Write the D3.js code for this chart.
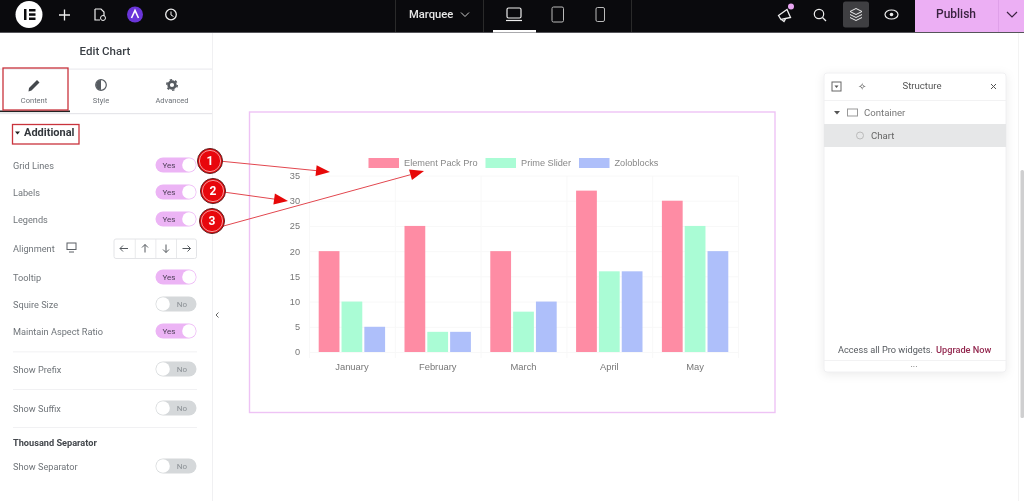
<!DOCTYPE html>
<html>
<head>
<meta charset="utf-8">
<script src="https://cdn.jsdelivr.net/npm/d3@7"></script>
<style>
html, body { margin: 0; padding: 0; background: #fff; overflow: hidden; }
svg { display: block; font-family: Roboto, sans-serif; filter: blur(0.35px); }
</style>
</head>
<body>
<div class="container"></div>
<script>
// chart data
const months = ['January', 'February', 'March', 'April', 'May']
const seriesNames = ['Element Pack Pro', 'Prime Slider', 'Zoloblocks']
const elementPack = [20, 25, 20, 32, 30]
const primeSlider = [10, 4, 8, 16, 25]
const zoloblocks = [5, 4, 10, 16, 20]
const yTicks = [0, 5, 10, 15, 20, 25, 30, 35]
const seriesColors = ['#fe8ca4', '#aafcd5', '#aebffa']

// editor panel rows
const rowLabels = ['Grid Lines', 'Labels', 'Legends', 'Alignment', 'Tooltip', 'Squire Size', 'Maintain Aspect Ratio', 'Show Prefix', 'Show Suffix', 'Show Separator']
const rowY = [165, 192, 219, 248, 277, 304, 331, 369, 408, 466]
const rowToggle = ['Yes', 'Yes', 'Yes', null, 'Yes', 'No', 'Yes', 'No', 'No', 'No']
const tabNames = ['Content', 'Style', 'Advanced']

const svg = d3.select('.container').append('svg')
    .attr('width', 1024)
    .attr('height', 501)

const text = (g, x, y, str, size, fill, anchor, weight) => g.append('text')
    .attr('x', x).attr('y', y).attr('dy', '.35em')
    .attr('font-size', size).attr('fill', fill)
    .attr('text-anchor', anchor || 'start')
    .attr('font-weight', weight || 400)
    .text(str)

const rect = (g, x, y, w, h, fill, stroke) => g.append('rect')
    .attr('x', x).attr('y', y).attr('width', w).attr('height', h)
    .attr('fill', fill || 'none').attr('stroke', stroke || 'none')

// top bar
const bar = svg.append('g')
rect(bar, 0, 0, 1024, 32, '#0a0a0d')
rect(bar, 0, 32, 1024, 1, '#55555a')
bar.append('circle').attr('cx', 29).attr('cy', 14.5).attr('r', 13.5).attr('fill', '#fff')
rect(bar, 24, 9, 2.5, 11, '#0a0a0d')
rect(bar, 29, 9, 6.5, 2.5, '#0a0a0d')
rect(bar, 29, 13.3, 6.5, 2.5, '#0a0a0d')
rect(bar, 29, 17.5, 6.5, 2.5, '#0a0a0d')
bar.append('path').attr('d', 'M59 15H70M64.5 9.5V20.5').attr('stroke', '#eee').attr('stroke-width', 1.3)
bar.append('path').attr('d', 'M95 9H101L104 12V16M95 9V20H100').attr('stroke', '#eee').attr('fill', 'none').attr('stroke-width', 1.2)
bar.append('circle').attr('cx', 103).attr('cy', 18).attr('r', 2.5).attr('stroke', '#eee').attr('fill', 'none')
bar.append('circle').attr('cx', 135).attr('cy', 14.5).attr('r', 8).attr('fill', '#6a35d9')
bar.append('path').attr('d', 'M131.5 18L135 10.5L138.5 18').attr('stroke', '#fff').attr('fill', 'none').attr('stroke-width', 1.6)
bar.append('circle').attr('cx', 171).attr('cy', 14.5).attr('r', 5.3).attr('stroke', '#eee').attr('fill', 'none').attr('stroke-width', 1.3)
bar.append('path').attr('d', 'M171 11.5V15L173.5 16.5').attr('stroke', '#eee').attr('fill', 'none')
rect(bar, 395, 0, 0.8, 32, '#333')
rect(bar, 483, 0, 0.8, 32, '#333')
rect(bar, 631, 0, 0.8, 32, '#333')
text(bar, 409, 14.5, 'Marquee', 11.2, '#e8e8e8', 'start', 500)
bar.append('path').attr('d', 'M461 12.5L465 16.5L469 12.5').attr('stroke', '#ccc').attr('fill', 'none')
// device switch
bar.append('rect').attr('x', 507).attr('y', 8).attr('width', 14).attr('height', 10).attr('rx', 1.5).attr('stroke', '#eee').attr('fill', 'none').attr('stroke-width', 1.2)
bar.append('path').attr('d', 'M506 20.5H522').attr('stroke', '#eee').attr('stroke-width', 1.2)
rect(bar, 493, 30, 43, 2.5, '#fff')
bar.append('rect').attr('x', 552).attr('y', 7).attr('width', 11.5).attr('height', 15).attr('rx', 1.5).attr('stroke', '#bbb').attr('fill', 'none')
bar.append('rect').attr('x', 596).attr('y', 7.5).attr('width', 8.5).attr('height', 14).attr('rx', 1.5).attr('stroke', '#bbb').attr('fill', 'none')
// right side icons
bar.append('path').attr('d', 'M778.5 15.5L787 9.5L790.5 17.5L781 19.5ZM781.5 19.5L784 21.5L785.5 19').attr('stroke', '#eee').attr('fill', 'none').attr('stroke-width', 1.3)
bar.append('circle').attr('cx', 791).attr('cy', 6.5).attr('r', 3).attr('fill', '#e9a6f2')
bar.append('circle').attr('cx', 819).attr('cy', 14).attr('r', 4.7).attr('stroke', '#eee').attr('fill', 'none').attr('stroke-width', 1.2)
bar.append('path').attr('d', 'M822.5 17.5L826 21').attr('stroke', '#eee').attr('stroke-width', 1.3)
bar.append('rect').attr('x', 843).attr('y', 1.5).attr('width', 26).attr('height', 26).attr('rx', 2.5).attr('fill', '#3f3f42')
bar.append('path').attr('d', 'M850 11.5L856 8.5L862 11.5L856 14.5ZM850 14.5L856 17.5L862 14.5M850 17.5L856 20.5L862 17.5').attr('stroke', '#eee').attr('fill', 'none')
bar.append('ellipse').attr('cx', 891.5).attr('cy', 14.5).attr('rx', 6.5).attr('ry', 4.5).attr('stroke', '#eee').attr('fill', 'none').attr('stroke-width', 1.2)
bar.append('circle').attr('cx', 891.5).attr('cy', 14.5).attr('r', 1.8).attr('fill', '#eee')
rect(bar, 915, 0, 109, 32, '#ecaff4')
rect(bar, 998, 0, 0.8, 32, '#dc9de6')
text(bar, 956, 14, 'Publish', 12, '#3a2340', 'middle', 500)
bar.append('path').attr('d', 'M1007 12L1012 17L1017 12').attr('stroke', '#3a2340').attr('fill', 'none').attr('stroke-width', 1.2)

// editor panel
const panel = svg.append('g')
rect(panel, 212, 33, 1, 468, '#f0f0f2')
text(panel, 105, 50.5, 'Edit Chart', 11.5, '#3a3f45', 'middle', 500)
rect(panel, 0, 68.5, 212, 1.2, '#ececef')
rect(panel, 0, 113, 212, 1.2, '#e6e6ea')
rect(panel, 0, 110.5, 70, 1.6, '#222')
tabNames.forEach((t, i) => text(panel, [34, 101, 172][i], 100.5, t, 7.5, '#6d7278', 'middle'))
panel.append('path').attr('d', 'M29 88L37 80L39.5 82.5L31.5 90.5L28.5 91.5Z').attr('fill', '#44484d')
panel.append('circle').attr('cx', 101).attr('cy', 85).attr('r', 5.3).attr('fill', '#fff').attr('stroke', '#565b61').attr('stroke-width', 1.2)
panel.append('path').attr('d', 'M101 80A5 5 0 0 0 101 90Z').attr('fill', '#565b61')
panel.append('circle').attr('cx', 172).attr('cy', 85).attr('r', 3.4).attr('fill', 'none').attr('stroke', '#565b61').attr('stroke-width', 2.6)
panel.append('circle').attr('cx', 172).attr('cy', 85).attr('r', 5.2).attr('fill', 'none').attr('stroke', '#565b61').attr('stroke-width', 1.6).attr('stroke-dasharray', '2.4 3')
rect(panel, 3, 68, 65, 42, 'none', '#c9333c').attr('stroke-width', 1.3)
rect(panel, 12.5, 124.5, 66.5, 19.5, 'none', '#c9333c').attr('stroke-width', 1.3)
panel.append('path').attr('d', 'M15 131.5H20L17.5 134.5Z').attr('fill', '#222')
text(panel, 24, 132.5, 'Additional', 11, '#33373c', 'start', 700)

rowLabels.forEach((label, i) => {
    text(panel, 13, rowY[i] + 0.5, label, 9.2, '#70757a')
    const state = rowToggle[i]
    if (!state) return
    const on = state === 'Yes'
    panel.append('rect').attr('x', 155.5).attr('y', rowY[i] - 7.5).attr('width', 41).attr('height', 15).attr('rx', 7.5)
        .attr('fill', on ? '#ecb4f5' : '#d5d8da')
    panel.append('circle').attr('cx', on ? 189 : 163).attr('cy', rowY[i]).attr('r', 6.8).attr('fill', '#fff')
    text(panel, on ? 169 : 182, rowY[i], state, 8, on ? '#50405a' : '#8b9095', 'middle')
})
text(panel, 13, 443, 'Thousand Separator', 9.2, '#43474c', 'start', 700)
;[351.5, 389, 427].forEach(y => rect(panel, 13, y, 184, 0.8, '#eeeef0'))

// alignment buttons
panel.append('rect').attr('x', 114).attr('y', 239).attr('width', 82.5).attr('height', 19.5).attr('rx', 2).attr('fill', '#fff').attr('stroke', '#e3e4e7')
;[134.8, 155.5, 176.2].forEach(x => rect(panel, x, 239, 0.8, 19.5, '#e3e4e7'))
panel.append('path').attr('d', 'M120 248.5H128M123 245.5L120 248.5L123 251.5M145 244.5V252.5M142 247.5L145 244.5L148 247.5M166 244.5V252.5M163 249.5L166 252.5L169 249.5M182.5 248.5H190.5M187.5 245.5L190.5 248.5L187.5 251.5')
    .attr('stroke', '#54595e').attr('fill', 'none').attr('stroke-width', 1)
rect(panel, 67, 243, 9, 6.5, 'none', '#5a5f64')
panel.append('path').attr('d', 'M69 252H74').attr('stroke', '#5a5f64')
panel.append('path').attr('d', 'M218.5 312.5L216 315L218.5 317.5').attr('stroke', '#666').attr('fill', 'none')

// chart frame
rect(svg, 249.5, 112, 525.5, 300.5, 'none', '#eec3f5').attr('stroke-width', 1.4)

// chart
const x = d3.scaleBand().domain(months).range([309, 738])
const y = d3.scaleLinear().domain([0, 35]).range([352, 175.5])
const inner = d3.scaleBand().domain(d3.range(3)).range([0, x.bandwidth()]).paddingInner(0.09).paddingOuter(0.425)

const chart = svg.append('g')
const grid = chart.append('g')
    .call(d3.axisLeft(y).tickValues(yTicks).tickSize(-(738 - 309)).tickFormat(''))
    .attr('transform', 'translate(309, 0)')
grid.selectAll('line').attr('stroke', '#f8f8f8')
grid.select('.domain').remove()
const gridX = chart.append('g')
    .attr('transform', 'translate(0, 358)')
    .call(d3.axisBottom(d3.scalePoint().domain(d3.range(6)).range([309, 738])).tickSize(-182).tickFormat(''))
gridX.selectAll('line').attr('stroke', '#f8f8f8')
gridX.select('.domain').remove()

const seriesValues = [elementPack, primeSlider, zoloblocks]
seriesValues.forEach((values, s) => {
    chart.append('g').selectAll('rect')
        .data(values)
        .enter()
        .append('rect')
        .attr('x', (d, i) => x(months[i]) + inner(s))
        .attr('y', d => y(d))
        .attr('width', inner.bandwidth())
        .attr('height', d => y(0) - y(d))
        .attr('fill', seriesColors[s])
})

const yAxis = chart.append('g')
    .attr('transform', 'translate(303, 0)')
    .call(d3.axisLeft(y).tickValues(yTicks).tickSize(0))
yAxis.select('.domain').remove()
yAxis.selectAll('text').attr('font-size', 9.2).attr('font-family', 'Liberation Sans').attr('fill', '#777')

const xAxis = chart.append('g')
    .attr('transform', 'translate(0, 360)')
    .call(d3.axisBottom(x).tickSize(0))
xAxis.select('.domain').remove()
xAxis.selectAll('text').attr('font-size', 9.4).attr('font-family', 'Liberation Sans').attr('fill', '#777')

// legend
const legendX = [368.5, 485.5, 579]
seriesNames.forEach((name, i) => {
    rect(chart, legendX[i], 158, 30.5, 10, seriesColors[i])
    text(chart, legendX[i] + 35.5, 163, name, 9.2, '#888', 'start').attr('font-family', 'Liberation Sans')
})

// structure panel
const st = svg.append('g')
st.append('rect').attr('x', 824).attr('y', 73).attr('width', 182).attr('height', 299).attr('rx', 3)
    .attr('fill', '#fff').attr('stroke', '#f0f0f2').style('filter', 'drop-shadow(0 2px 5px rgba(0,0,0,.08))')
rect(st, 824, 100, 182, 0.8, '#efeff1')
rect(st, 824, 124, 182, 23, '#e6e7e8')
rect(st, 824, 360, 182, 0.8, '#efeff1')
rect(st, 832, 82, 9, 9, 'none', '#666')
st.append('path').attr('d', 'M834.5 85.5H838.5L836.5 88Z').attr('fill', '#555')
text(st, 862, 86, '✧', 10, '#555', 'middle')
text(st, 922, 86, 'Structure', 9.6, '#555', 'middle')
st.append('path').attr('d', 'M991 84L996 89M996 84L991 89').attr('stroke', '#555')
st.append('path').attr('d', 'M834 111H840L837 114.5Z').attr('fill', '#555')
rect(st, 847.5, 109, 10, 7, 'none', '#999')
text(st, 864, 112.5, 'Container', 9.6, '#777')
st.append('circle').attr('cx', 860).attr('cy', 135.5).attr('r', 3.5).attr('fill', '#e6e7e8').attr('stroke', '#bbb')
text(st, 871, 135.5, 'Chart', 9.6, '#666')
text(st, 838, 350, 'Access all Pro widgets.', 9.2, '#55595e')
text(st, 936, 350, 'Upgrade Now', 9.2, '#93284f', 'start', 500)
text(st, 914, 364, '...', 9, '#666', 'middle')

// page scrollbar
rect(svg, 1018, 33, 0.8, 468, '#f0f0f1')
svg.append('rect').attr('x', 1020.5).attr('y', 170).attr('width', 3.5).attr('height', 248).attr('rx', 1.5).attr('fill', '#cfcfd0')

// numbered callouts
const callouts = svg.append('g')
const arrowTips = [[330, 172], [288, 201], [424, 171]]
const arrowStarts = [[209, 160], [209, 190], [209, 230]]
const calloutY = [161, 191, 221]
const calloutX = [210, 213, 212]
arrowTips.forEach((tip, i) => {
    const a = Math.atan2(tip[1] - arrowStarts[i][1], tip[0] - arrowStarts[i][0])
    const bx = tip[0] - 14 * Math.cos(a), by = tip[1] - 14 * Math.sin(a)
    const n = [-Math.sin(a) * 5.5, Math.cos(a) * 5.5]
    callouts.append('line').attr('x1', arrowStarts[i][0]).attr('y1', arrowStarts[i][1]).attr('x2', bx).attr('y2', by)
        .attr('stroke', '#e2474f').attr('stroke-width', 1)
    callouts.append('path').attr('d', `M${tip}L${bx + n[0]},${by + n[1]}L${bx - n[0]},${by - n[1]}Z`).attr('fill', '#e70808')
})
calloutY.forEach((cy, i) => {
    callouts.append('circle').attr('cx', calloutX[i]).attr('cy', cy).attr('r', 12.5).attr('fill', '#e8070c').attr('stroke', '#5a2020').attr('stroke-width', 1)
    callouts.append('circle').attr('cx', calloutX[i]).attr('cy', cy).attr('r', 10.6).attr('fill', 'none').attr('stroke', '#f5c0c0').attr('stroke-width', 0.8)
    text(callouts, calloutX[i], cy, i + 1, 12, '#fff', 'middle', 700)
})
</script>
</body>
</html>
